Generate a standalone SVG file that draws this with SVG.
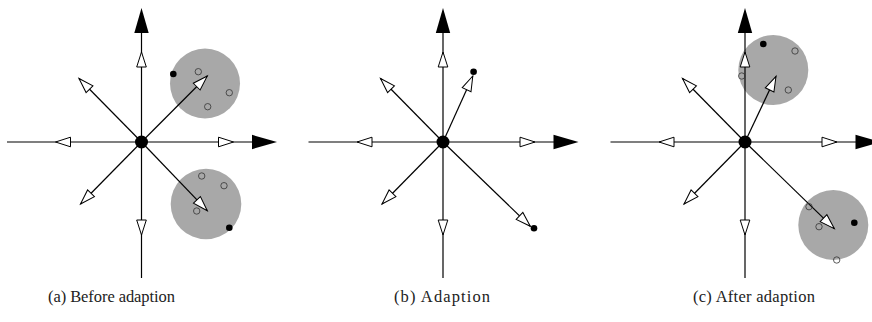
<svg xmlns="http://www.w3.org/2000/svg" xmlns:xlink="http://www.w3.org/1999/xlink" width="872" height="322" viewBox="0 0 872 322">
<style>
.ax{stroke:#000;stroke-width:1.2;fill:none}
.cl{fill:#a8a8a8}
.op{fill:none;stroke:#333;stroke-width:0.8}
.bd{fill:#000}
.cap{font-family:"Liberation Serif","Times New Roman",serif;font-size:16.5px;fill:#222}
</style>
<defs>
<path id="wh" d="M0,0 L-15,-4.8 L-15,4.8 Z" fill="#fff" stroke="#000" stroke-width="1"/>
<path id="bh" d="M0,0 L-25,-7.2 L-25,7.2 Z" fill="#000"/>
<g id="axes">
<line class="ax" x1="-134.5" y1="0" x2="120" y2="0"/>
<line class="ax" x1="0" y1="136" x2="0" y2="-120"/>
<use xlink:href="#bh" transform="translate(135.5,0)"/>
<use xlink:href="#bh" transform="translate(0,-134) rotate(-90)"/>
<use xlink:href="#wh" transform="translate(92,0)"/>
<use xlink:href="#wh" transform="translate(-86,0) rotate(180)"/>
<use xlink:href="#wh" transform="translate(0,-90) rotate(-90)"/>
<use xlink:href="#wh" transform="translate(0,93) rotate(90)"/>
<line class="ax" x1="0" y1="0" x2="-62.5" y2="-63.5"/>
<use xlink:href="#wh" transform="translate(-62.5,-63.5) rotate(-134.5)"/>
<line class="ax" x1="0" y1="0" x2="-61" y2="62"/>
<use xlink:href="#wh" transform="translate(-61,62) rotate(134.5)"/>
</g>
</defs>

<g id="panel-a">
<g id="a-clusters">
<circle class="cl" cx="205" cy="83.5" r="35"/>
<circle class="cl" cx="206" cy="204" r="35.3"/>
</g>
<g id="a-connectors" transform="translate(141.5,142)">
<use xlink:href="#axes"/>
<line class="ax" x1="0" y1="0" x2="65.8" y2="-66"/>
<use xlink:href="#wh" transform="translate(65.8,-66) rotate(-45.1)"/>
<line class="ax" x1="0" y1="0" x2="65.8" y2="68.7"/>
<use xlink:href="#wh" transform="translate(65.8,68.7) rotate(46.2)"/>
</g>
<g id="a-points">
<circle class="bd" cx="173.3" cy="74" r="3.3"/>
<circle class="op" cx="198.3" cy="71.7" r="3.2"/>
<circle class="op" cx="229.3" cy="92.7" r="3.2"/>
<circle class="op" cx="207.7" cy="106.7" r="3.2"/>
<circle class="op" cx="201.7" cy="176" r="3.2"/>
<circle class="op" cx="224" cy="185.7" r="3.2"/>
<circle class="op" cx="196.7" cy="211" r="3.2"/>
<circle class="bd" cx="229.3" cy="227.7" r="3.3"/>
</g>
<g id="a-center"><circle class="bd" cx="141.5" cy="142" r="6.5"/></g>
<text class="cap" x="48" y="302" textLength="127" lengthAdjust="spacing">(a) Before adaption</text>
</g>

<g id="panel-b">
<g id="b-connectors" transform="translate(443,142)">
<use xlink:href="#axes"/>
<line class="ax" x1="0" y1="0" x2="29.8" y2="-66"/>
<use xlink:href="#wh" transform="translate(29.8,-66) rotate(-65.7)"/>
<line class="ax" x1="0" y1="0" x2="87.3" y2="84.3"/>
<use xlink:href="#wh" transform="translate(87.3,84.3) rotate(44)"/>
</g>
<g id="b-points">
<circle class="bd" cx="473.6" cy="71.7" r="3.3"/>
<circle class="bd" cx="534" cy="228.3" r="3.3"/>
</g>
<g id="b-center"><circle class="bd" cx="443" cy="142" r="6.5"/></g>
<text class="cap" x="394" y="302" textLength="96" lengthAdjust="spacing">(b) Adaption</text>
</g>

<g id="panel-c">
<g id="c-clusters">
<circle class="cl" cx="773.3" cy="70" r="35"/>
<circle class="cl" cx="833.3" cy="225" r="35"/>
</g>
<g id="c-connectors" transform="translate(745,142)">
<use xlink:href="#axes"/>
<line class="ax" x1="0" y1="0" x2="31" y2="-65.7"/>
<use xlink:href="#wh" transform="translate(31,-65.7) rotate(-64.7)"/>
<line class="ax" x1="0" y1="0" x2="89.3" y2="86.6"/>
<use xlink:href="#wh" transform="translate(89.3,86.6) rotate(44.1)"/>
</g>
<g id="c-points">
<circle class="bd" cx="763.3" cy="44" r="3.3"/>
<circle class="op" cx="795" cy="51" r="3.2"/>
<circle class="op" cx="741.7" cy="76" r="3.2"/>
<circle class="op" cx="788.3" cy="90" r="3.2"/>
<circle class="op" cx="809" cy="206.7" r="3.2"/>
<circle class="op" cx="819" cy="226.7" r="3.2"/>
<circle class="bd" cx="854.3" cy="222.7" r="3.3"/>
<circle class="op" cx="836.7" cy="260" r="3.2"/>
</g>
<g id="c-center"><circle class="bd" cx="745" cy="142" r="6.5"/></g>
<text class="cap" x="693" y="302" textLength="122" lengthAdjust="spacing">(c) After adaption</text>
</g>
</svg>
